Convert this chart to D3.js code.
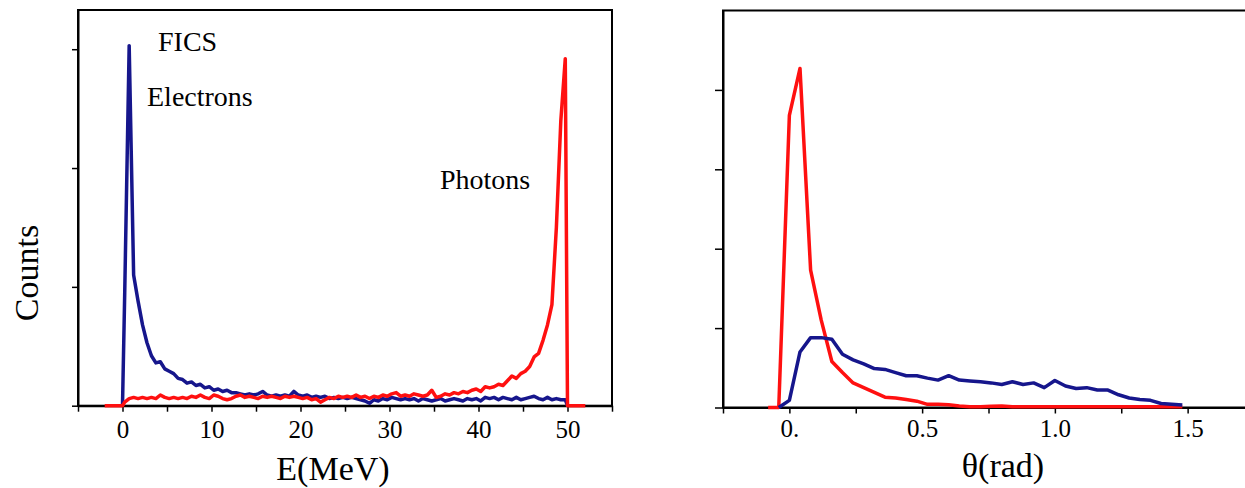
<!DOCTYPE html>
<html>
<head>
<meta charset="utf-8">
<script src="https://cdn.jsdelivr.net/npm/d3@7"></script>
<style>
  body { margin: 0; background: #fff; }
</style>
</head>
<body>
<div id="chart"></div>
<script>
// Energy spectrum (left panel), bin centres in MeV
const energy = [
  0.25, 0.75, 1.25, 1.75, 2.25, 2.75, 3.25, 3.75, 4.25, 4.75,
  5.25, 5.75, 6.25, 6.75, 7.25, 7.75, 8.25, 8.75, 9.25, 9.75,
  10.25, 10.75, 11.25, 11.75, 12.25, 12.75, 13.25, 13.75, 14.25, 14.75,
  15.25, 15.75, 16.25, 16.75, 17.25, 17.75, 18.25, 18.75, 19.25, 19.75,
  20.25, 20.75, 21.25, 21.75, 22.25, 22.75, 23.25, 23.75, 24.25, 24.75,
  25.25, 25.75, 26.25, 26.75, 27.25, 27.75, 28.25, 28.75, 29.25, 29.75,
  30.25, 30.75, 31.25, 31.75, 32.25, 32.75, 33.25, 33.75, 34.25, 34.75,
  35.25, 35.75, 36.25, 36.75, 37.25, 37.75, 38.25, 38.75, 39.25, 39.75,
  40.25, 40.75, 41.25, 41.75, 42.25, 42.75, 43.25, 43.75, 44.25, 44.75,
  45.25, 45.75, 46.25, 46.75, 47.25, 47.75, 48.25, 48.75, 49.25, 49.75
];
const electronCounts = [
  0.95, 3.03, 1.10, 0.88, 0.68, 0.53, 0.42, 0.36, 0.37, 0.31,
  0.29, 0.27, 0.23, 0.22, 0.19, 0.20, 0.17, 0.18, 0.15, 0.16,
  0.13, 0.14, 0.12, 0.13, 0.11, 0.11, 0.10, 0.09, 0.10, 0.09,
  0.10, 0.12, 0.09, 0.08, 0.09, 0.08, 0.09, 0.08, 0.12, 0.09,
  0.08, 0.09, 0.07, 0.08, 0.07, 0.08, 0.06, 0.07, 0.06, 0.07,
  0.06, 0.07, 0.06, 0.05, 0.04, 0.02, 0.05, 0.04, 0.06, 0.05,
  0.07, 0.06, 0.05, 0.06, 0.05, 0.06, 0.04, 0.06, 0.05, 0.04,
  0.05, 0.06, 0.04, 0.05, 0.06, 0.05, 0.04, 0.06, 0.05, 0.06,
  0.04, 0.07, 0.06, 0.07, 0.05, 0.07, 0.06, 0.05, 0.07, 0.05,
  0.06, 0.07, 0.08, 0.06, 0.05, 0.07, 0.05, 0.06, 0.05, 0.05
];
const photonCounts = [
  0.03, 0.06, 0.07, 0.06, 0.07, 0.06, 0.07, 0.06, 0.09, 0.07,
  0.06, 0.07, 0.06, 0.07, 0.06, 0.08, 0.07, 0.09, 0.07, 0.06,
  0.09, 0.08, 0.06, 0.05, 0.06, 0.08, 0.09, 0.07, 0.08, 0.07,
  0.06, 0.08, 0.07, 0.08, 0.07, 0.06, 0.08, 0.07, 0.08, 0.07,
  0.06, 0.07, 0.05, 0.06, 0.03, 0.05, 0.07, 0.06, 0.08, 0.07,
  0.08, 0.07, 0.09, 0.07, 0.08, 0.06, 0.08, 0.07, 0.09, 0.08,
  0.10, 0.11, 0.08, 0.09, 0.08, 0.10, 0.09, 0.08, 0.09, 0.13,
  0.07, 0.08, 0.10, 0.09, 0.11, 0.10, 0.12, 0.11, 0.13, 0.14,
  0.12, 0.16, 0.15, 0.16, 0.18, 0.17, 0.21, 0.25, 0.23, 0.27,
  0.29, 0.33, 0.41, 0.44, 0.55, 0.68, 0.85, 1.50, 2.40, 2.92
];

// Angular distribution (right panel), theta in rad
const theta = [
  -0.08, -0.04, 0.00, 0.04, 0.08, 0.12, 0.16, 0.20, 0.24, 0.28,
  0.32, 0.36, 0.40, 0.44, 0.48, 0.52, 0.56, 0.60, 0.64, 0.68,
  0.72, 0.76, 0.80, 0.84, 0.88, 0.92, 0.96, 1.00, 1.04, 1.08,
  1.12, 1.16, 1.20, 1.24, 1.28, 1.32, 1.36, 1.40, 1.44, 1.48
];
const electronTheta = [
  null, 0.00, 0.09, 0.70, 0.88, 0.88, 0.86, 0.67, 0.60, 0.55,
  0.49, 0.48, 0.44, 0.40, 0.40, 0.37, 0.345, 0.40, 0.345, 0.335,
  0.325, 0.31, 0.29, 0.325, 0.29, 0.31, 0.25, 0.34, 0.27, 0.24,
  0.25, 0.22, 0.22, 0.16, 0.12, 0.10, 0.09, 0.05, 0.04, 0.03
];
const photonTheta = [
  0.00, 0.00, 3.68, 4.27, 1.73, 1.10, 0.58, 0.44, 0.31, 0.25,
  0.19, 0.13, 0.12, 0.10, 0.08, 0.04, 0.04, 0.035, 0.02, 0.01,
  0.01, 0.015, 0.02, 0.01, 0.01, 0.008, 0.008, 0.008, 0.008, 0.008,
  0.008, 0.008, 0.008, 0.008, 0.008, 0.008, 0.008, 0.008, 0.008, 0.008
];

const energyTicks = [-5, 0, 5, 10, 15, 20, 25, 30, 35, 40, 45, 50, 55];
const energyLabels = [0, 10, 20, 30, 40, 50];
const thetaTicks = [-0.25, 0, 0.25, 0.5, 0.75, 1.0, 1.25, 1.5, 1.75];
const thetaLabels = { "0": "0.", "0.5": "0.5", "1": "1.0", "1.5": "1.5" };

const blue = "#16168c";
const red = "#ff1010";
const serif = "Liberation Serif";

const svg = d3.select("#chart").append("svg")
  .attr("width", 1245)
  .attr("height", 488)
  .attr("font-family", serif);

// ---------- left panel ----------
const xE = d3.scaleLinear().domain([-5, 55]).range([78, 612]);
const yE = d3.scaleLinear().domain([0, 3.33]).range([405.7, 10]);

const left = svg.append("g");

left.append("rect")
  .attr("x", xE(-5)).attr("y", yE(3.33))
  .attr("width", xE(55) - xE(-5)).attr("height", yE(0) - yE(3.33))
  .attr("fill", "none").attr("stroke", "#000").attr("stroke-width", 2);

left.append("g")
  .attr("transform", `translate(0,${yE(0)})`)
  .call(d3.axisBottom(xE).tickValues(energyTicks).tickSize(6).tickSizeOuter(0)
    .tickFormat(d => energyLabels.includes(d) ? d : ""))
  .attr("font-family", serif).attr("font-size", 25)
  .call(g => g.select(".domain").attr("stroke-width", 2))
  .call(g => g.selectAll(".tick line").attr("stroke-width", 1.5))
  .call(g => g.selectAll(".tick text").attr("dy", 0).attr("y", 32));

left.append("g")
  .attr("transform", `translate(${xE(-5)},0)`)
  .call(d3.axisLeft(yE).tickValues([0, 1, 2, 3]).tickSize(6).tickSizeOuter(0).tickFormat(""))
  .call(g => g.select(".domain").attr("stroke-width", 2))
  .call(g => g.selectAll(".tick line").attr("stroke-width", 1.5));

const lineE = d3.line()
  .x(d => xE(d[0]))
  .y(d => yE(d[1]))
  .defined(d => d[1] != null);

const elecPts = [[0, 0]].concat(energy.map((e, i) => [e, electronCounts[i]]), [[50, 0]]);
const photPts = [[-2, 0], [0, 0]].concat(energy.map((e, i) => [e, photonCounts[i]]), [[50, 0], [52, 0]]);

left.append("path").datum(elecPts)
  .attr("d", lineE).attr("fill", "none").attr("stroke", blue)
  .attr("stroke-width", 3.5).attr("stroke-linejoin", "round");
left.append("path").datum(photPts)
  .attr("d", lineE).attr("fill", "none").attr("stroke", red)
  .attr("stroke-width", 3.5).attr("stroke-linejoin", "round");

left.append("text").attr("x", 158).attr("y", 51).attr("font-size", 28).text("FICS");
left.append("text").attr("x", 147).attr("y", 106).attr("font-size", 28).text("Electrons");
left.append("text").attr("x", 440).attr("y", 189).attr("font-size", 28).text("Photons");

left.append("text")
  .attr("transform", "translate(38,273) rotate(-90)")
  .attr("text-anchor", "middle").attr("font-size", 34).text("Counts");
left.append("text")
  .attr("x", 333).attr("y", 480)
  .attr("text-anchor", "middle").attr("font-size", 34).text("E(MeV)");

// ---------- right panel ----------
const xT = d3.scaleLinear().domain([-0.25, 1.75]).range([723, 1254]);
const yT = d3.scaleLinear().domain([0, 5]).range([407.5, 10.5]);

const right = svg.append("g");

right.append("rect")
  .attr("x", xT(-0.25)).attr("y", yT(5))
  .attr("width", xT(1.75) - xT(-0.25)).attr("height", yT(0) - yT(5))
  .attr("fill", "none").attr("stroke", "#000").attr("stroke-width", 2);

right.append("g")
  .attr("transform", `translate(0,${yT(0)})`)
  .call(d3.axisBottom(xT).tickValues(thetaTicks).tickSize(6).tickSizeOuter(0)
    .tickFormat(d => thetaLabels[String(d)] || ""))
  .attr("font-family", serif).attr("font-size", 25)
  .call(g => g.select(".domain").attr("stroke-width", 2))
  .call(g => g.selectAll(".tick line").attr("stroke-width", 1.5))
  .call(g => g.selectAll(".tick text").attr("dy", 0).attr("y", 29));

right.append("g")
  .attr("transform", `translate(${xT(-0.25)},0)`)
  .call(d3.axisLeft(yT).tickValues([0, 1, 2, 3, 4]).tickSize(8).tickSizeOuter(0).tickFormat(""))
  .call(g => g.select(".domain").attr("stroke-width", 2))
  .call(g => g.selectAll(".tick line").attr("stroke-width", 1.5));

const lineT = d3.line()
  .x(d => xT(d[0]))
  .y(d => yT(d[1]))
  .defined(d => d[1] != null);

right.append("path").datum(theta.map((t, i) => [t, photonTheta[i]]))
  .attr("d", lineT).attr("fill", "none").attr("stroke", red)
  .attr("stroke-width", 3.5).attr("stroke-linejoin", "round");
right.append("path").datum(theta.map((t, i) => [t, electronTheta[i]]))
  .attr("d", lineT).attr("fill", "none").attr("stroke", blue)
  .attr("stroke-width", 3.5).attr("stroke-linejoin", "round");

right.append("text")
  .attr("x", 1003).attr("y", 477)
  .attr("text-anchor", "middle").attr("font-size", 34).text("θ(rad)");
</script>
</body>
</html>
